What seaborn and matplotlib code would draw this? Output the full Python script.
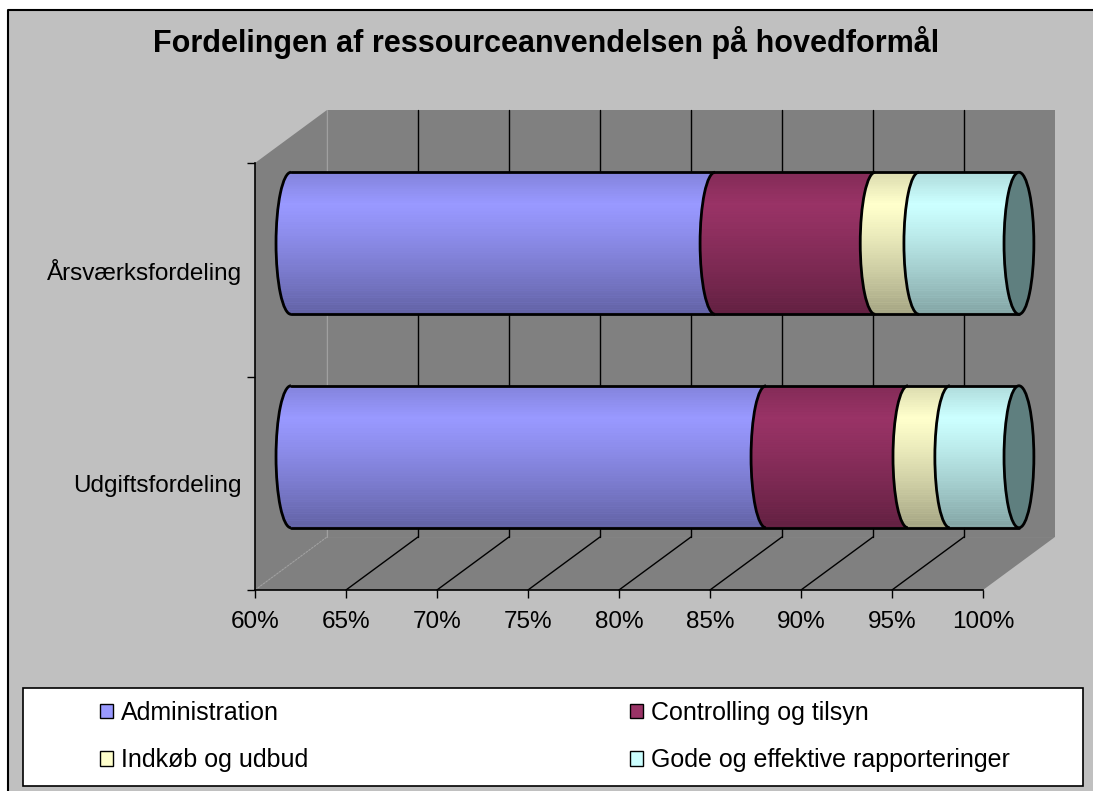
import numpy as np
import pandas as pd
import matplotlib
matplotlib.use("Agg")
import matplotlib.pyplot as plt
import seaborn as sns
from matplotlib.patches import Polygon, Ellipse, Arc, Rectangle, Patch
from matplotlib.collections import PolyCollection
from matplotlib.lines import Line2D
from matplotlib.path import Path
from matplotlib.transforms import Affine2D

# data (percent of total)
categories = ['Årsværksfordeling', 'Udgiftsfordeling']
series = ['Administration', 'Controlling og tilsyn', 'Indkøb og udbud',
          'Gode og effektive rapporteringer']
administration = [83.3, 86.1]
controlling = [8.8, 7.8]
indkob = [2.4, 2.3]
gode = [5.5, 3.8]
colors = ['#9999FF', '#993366', '#FFFFCC', '#CCFFFF']
xticks = [60, 65, 70, 75, 80, 85, 90, 95, 100]
title = 'Fordelingen af ressourceanvendelsen på hovedformål'

sns.set_style('white')
plt.rcParams['font.family'] = ['Liberation Sans', 'DejaVu Sans']
plt.rcParams['text.color'] = 'black'

W, H = 1093, 791
fig = plt.figure(figsize=(W / 100, H / 100), dpi=100, facecolor='white')


def fx(px):
    return px / W


def fy(py):
    return 1 - py / H


# grey chart area (border only on left and top) with the legend box
fig.add_artist(Rectangle((fx(8), 0), 1 - fx(8), fy(10), transform=fig.transFigure,
                         facecolor='#C0C0C0', edgecolor='none', zorder=-2))
fig.add_artist(Line2D([fx(8), fx(8), 1], [0, fy(10), fy(10)], transform=fig.transFigure,
                      color='black', lw=1.5, zorder=-2))
fig.add_artist(Rectangle((fx(23), fy(786)), (1083 - 23) / W, (786 - 688) / H,
                         transform=fig.transFigure, facecolor='white',
                         edgecolor='black', lw=1.2, zorder=-1))

fig.text(fx(546), fy(52), title, ha='center', va='baseline', fontsize=22,
         fontweight='bold', color='black')

# axes = front plane of the 3d box
ax = fig.add_axes([fx(255), fy(590), (983 - 255) / W, (590 - 163) / H])
ax.patch.set_visible(False)

DX, DY = 3.95, 0.248      # depth of the box in data units
XMIN, XMAX = 60, 100
YTOP, YBOT = -0.5, 1.5
WALL = '#808080'

back = [(XMIN + DX, YTOP - DY), (XMAX + DX, YTOP - DY), (XMAX + DX, YBOT - DY), (XMIN + DX, YBOT - DY)]
side = [(XMIN, YTOP), (XMIN + DX, YTOP - DY), (XMIN + DX, YBOT - DY), (XMIN, YBOT)]
floor = [(XMIN, YBOT), (XMAX, YBOT), (XMAX + DX, YBOT - DY), (XMIN + DX, YBOT - DY)]
for poly in (back, side, floor):
    ax.add_patch(Polygon(poly, closed=True, facecolor=WALL, edgecolor='none',
                         clip_on=False, zorder=0.1))

for t in xticks[1:-1]:
    ax.plot([t + DX, t + DX], [YTOP - DY, YBOT - DY], color='black', lw=1,
            clip_on=False, zorder=0.2)
    ax.plot([t, t + DX], [YBOT, YBOT - DY], color='black', lw=1,
            clip_on=False, zorder=0.2)
ax.plot([XMIN + DX, XMIN + DX], [YTOP - DY, YBOT - DY], color='#A0A0A0', lw=0.8,
        clip_on=False, zorder=0.2)
ax.plot([XMIN, XMIN + DX], [YBOT, YBOT - DY], color='#A0A0A0', lw=0.8, ls=(0, (2, 1)),
        clip_on=False, zorder=0.2)

# stacked bars: cumulative totals drawn largest first
df = pd.DataFrame({'kategori': categories, series[0]: administration,
                   series[1]: controlling, series[2]: indkob, series[3]: gode})
cum = df[series].cumsum(axis=1)
cum['kategori'] = categories

BAR_W = 0.665
A = 0.82                   # half width of the cylinder ends
shift = Affine2D().translate(DX / 2, -DY / 2) + ax.transData


def cyl_path(x0, x1, yc, h, n=40):
    b = h / 2
    t = np.linspace(0, np.pi, n)
    right = np.column_stack([x1 - A * np.sin(t), yc - b * np.cos(t)])
    left = np.column_stack([x0 - A * np.sin(t[::-1]), yc - b * np.cos(t[::-1])])
    verts = np.vstack([right, left, right[:1]])
    return Path(verts)


bar_geo = []
for s, c in reversed(list(zip(series, colors))):
    n0 = len(ax.patches)
    sns.barplot(data=cum, x=s, y='kategori', color=c, saturation=1, width=BAR_W,
                errorbar=None, orient='h', ax=ax)
    for p in ax.patches[n0:]:
        h = p.get_height()
        yc = p.get_y() + h / 2
        w = p.get_width()
        p.set_transform(shift)
        p.set_edgecolor('none')
        p.set_linewidth(0)
        p.set_zorder(2)
        p.set_clip_path(cyl_path(XMIN, w, yc, h), shift)
        p.set_clip_box(None)
        bar_geo.append((yc, h, w))

# shading bands, outlines and end caps
for yc, h in sorted({(round(g[0], 6), round(g[1], 6)) for g in bar_geo}):
    b = h / 2
    edges = np.linspace(yc - b, yc + b, 61)
    tt = (edges[:-1] + edges[1:]) / 2
    tn = (tt - (yc - b)) / h
    alpha = np.where(tn < 0.22, 0.14 * (1 - tn / 0.22), 0.36 * ((tn - 0.22) / 0.78) ** 1.2)
    polys = []
    for y0, y1 in zip(edges[:-1], edges[1:]):
        e0 = A * np.sqrt(max(0, 1 - ((y0 - yc) / b) ** 2))
        e1 = A * np.sqrt(max(0, 1 - ((y1 - yc) / b) ** 2))
        polys.append([(XMIN - e0, y0), (XMAX - e0, y0), (XMAX - e1, y1), (XMIN - e1, y1)])
    fc = np.zeros((len(polys), 4))
    fc[:, 3] = alpha
    ax.add_collection(PolyCollection(polys, facecolors=fc, edgecolors='none',
                                     transform=shift, clip_on=False, zorder=2.5))
    for yy in (yc - b, yc + b):
        ax.plot([XMIN, XMAX], [yy, yy], color='black', lw=2, transform=shift,
                clip_on=False, zorder=3, solid_capstyle='round')
    bounds = sorted({round(g[2], 6) for g in bar_geo if abs(g[0] - yc) < 1e-6})
    for xb in [XMIN] + [v for v in bounds if v < XMAX - 1e-6]:
        ax.add_patch(Arc((xb, yc), 2 * A, h, theta1=90, theta2=270, color='black',
                         lw=2, transform=shift, clip_on=False, zorder=3))
    ax.add_patch(Ellipse((XMAX, yc), 2 * A, h, facecolor='#5F7F7F', edgecolor='black',
                         lw=2, transform=shift, clip_on=False, zorder=3.5))

# axes, ticks and labels
ax.set_xlim(XMIN, XMAX)
ax.set_ylim(YBOT, YTOP)
ax.set_xticks(xticks)
ax.set_xticklabels([f'{t}%' for t in xticks])
ax.set_yticks(range(len(categories)))
ax.set_yticklabels(categories)
ax.set_yticks([-0.5, 0.5, 1.5], minor=True)
ax.set_xlabel('')
ax.set_ylabel('')
ax.tick_params(axis='x', bottom=True, direction='out', length=5.8, width=1,
               labelsize=17.5, pad=9.5, colors='black')
ax.tick_params(axis='y', which='major', left=True, length=0, pad=9.4, labelsize=17.5,
               colors='black')
ax.tick_params(axis='y', which='minor', left=True, direction='out', length=5.8, width=1,
               colors='black')
for side_name in ('top', 'right'):
    ax.spines[side_name].set_visible(False)
for side_name in ('left', 'bottom'):
    ax.spines[side_name].set_color('black')
    ax.spines[side_name].set_linewidth(1.2)

# legend, row-wise order
order = [0, 2, 1, 3]
handles = [Patch(facecolor=colors[i], edgecolor='black', lw=1) for i in order]
labels = [series[i] for i in order]
leg = fig.legend(handles, labels, ncol=2, loc='upper left',
                 bbox_to_anchor=(fx(100), fy(701)), frameon=False, fontsize=18,
                 handlelength=0.52, handleheight=0.52, handletextpad=0.3,
                 columnspacing=12.9, labelspacing=0.94, borderpad=0, borderaxespad=0)
for txt in leg.get_texts():
    txt.set_color('black')

fig.savefig('out.png', dpi=100, facecolor='white')
